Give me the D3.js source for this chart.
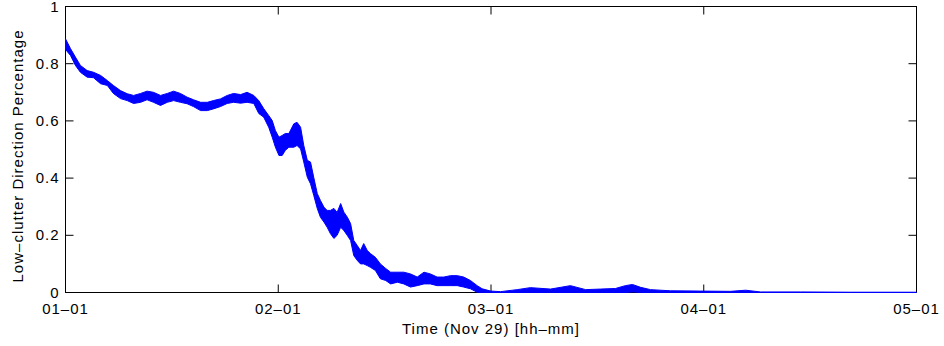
<!DOCTYPE html>
<html>
<head>
<meta charset="utf-8">
<script src="https://cdn.jsdelivr.net/npm/d3@7"></script>
<style>
  body { margin: 0; background: #fff; }
  text { font-family: 'Liberation Sans', Arial, sans-serif; font-size: 15px; letter-spacing: 1px; fill: #000; }
</style>
</head>
<body>
<svg id="chart"></svg>
<script>
// minutes after 01:01 (Nov 29) and the low / high edge of the noisy trace
const minutes = [0, 1.4, 2.8, 4.2, 6.1, 7.9, 9.9, 11.8, 13.5, 15.5, 17.4, 19.2, 21.2, 23.0, 24.8, 26.8, 28.7, 30.5, 32.4, 34.3,
  36.1, 38.1, 40.0, 41.7, 43.7, 45.6, 47.4, 49.4, 51.2, 53.1, 54.5, 55.9, 57.3, 58.3, 59.2, 60.2, 61.1, 62.0, 63.0, 64.4,
  65.3, 66.3, 67.2, 68.2, 69.1, 70.0, 71.0, 71.9, 72.9, 73.8, 74.7, 75.7, 76.6, 77.6, 78.5, 79.5, 80.4, 81.3, 82.3, 83.2,
  84.1, 85.1, 86.0, 87.4, 88.8, 90.3, 91.7, 93.6, 95.4, 97.3, 99.2, 101.1, 102.9, 104.8, 106.7, 108.6, 110.5, 112.3, 114.2, 116.1,
  117.5, 119.9, 122.7, 127.4, 131.1, 136.8, 142.4, 146.7, 150.9, 155.1, 157.9, 159.9, 162.2, 165.0, 170.6, 179.1, 187.5, 191.8, 196.0, 207.3,
  221.4, 240]
const lowVals = [0.850, 0.829, 0.794, 0.770, 0.753, 0.751, 0.730, 0.724, 0.696, 0.678, 0.671, 0.661, 0.665, 0.674, 0.665, 0.654, 0.665, 0.671, 0.665, 0.660,
  0.650, 0.636, 0.636, 0.642, 0.650, 0.661, 0.665, 0.662, 0.665, 0.661, 0.626, 0.613, 0.578, 0.543, 0.508, 0.479, 0.479, 0.497, 0.508, 0.508,
  0.514, 0.502, 0.456, 0.403, 0.380, 0.340, 0.294, 0.263, 0.246, 0.228, 0.206, 0.189, 0.200, 0.228, 0.217, 0.199, 0.182, 0.129, 0.112, 0.100,
  0.100, 0.094, 0.088, 0.077, 0.048, 0.042, 0.030, 0.036, 0.030, 0.019, 0.024, 0.030, 0.030, 0.024, 0.024, 0.024, 0.024, 0.019, 0.013, 0.001,
  0.000, 0.000, 0.000, 0.000, 0.000, 0.000, 0.000, 0.000, 0.000, 0.000, 0.000, 0.002, 0.000, 0.000, 0.000, 0.000, 0.000, 0.000, 0.000, 0.000,
  0.000, 0.000]
const highVals = [0.887, 0.853, 0.823, 0.794, 0.776, 0.770, 0.759, 0.741, 0.724, 0.706, 0.695, 0.689, 0.696, 0.704, 0.700, 0.689, 0.696, 0.704, 0.696, 0.683,
  0.674, 0.665, 0.665, 0.671, 0.677, 0.689, 0.696, 0.692, 0.700, 0.689, 0.671, 0.643, 0.619, 0.601, 0.566, 0.543, 0.549, 0.556, 0.556, 0.590,
  0.595, 0.578, 0.514, 0.462, 0.456, 0.403, 0.346, 0.322, 0.298, 0.287, 0.287, 0.294, 0.280, 0.311, 0.281, 0.263, 0.241, 0.182, 0.164, 0.147,
  0.171, 0.147, 0.136, 0.123, 0.100, 0.084, 0.071, 0.071, 0.071, 0.065, 0.054, 0.071, 0.065, 0.054, 0.054, 0.059, 0.059, 0.054, 0.042, 0.024,
  0.013, 0.005, 0.003, 0.010, 0.017, 0.012, 0.024, 0.010, 0.012, 0.014, 0.024, 0.028, 0.018, 0.010, 0.006, 0.005, 0.004, 0.008, 0.002, 0.002,
  0.001, 0.001]
const yTicks = [0, 0.2, 0.4, 0.6, 0.8, 1]
const yTickLabels = ['0', '0.2', '0.4', '0.6', '0.8', '1']
const xTickHours = [0, 1, 2, 3, 4]

const width = 944
const height = 346
const margin = { left: 65.5, right: 27.5, top: 6.5, bottom: 53.5 }

const svg = d3.select('#chart').attr('width', width).attr('height', height)

const start = new Date(2000, 10, 29, 1, 1)
const x = d3.scaleTime()
  .domain([start, d3.timeMinute.offset(start, 240)])
  .range([margin.left, width - margin.right])
const y = d3.scaleLinear().domain([0, 1]).range([height - margin.bottom, margin.top])

const fmt = d3.timeFormat('%H–%M')
const xTicks = xTickHours.map(h => d3.timeMinute.offset(start, h * 60))

// box
svg.append('rect')
  .attr('x', margin.left).attr('y', margin.top)
  .attr('width', width - margin.left - margin.right)
  .attr('height', height - margin.top - margin.bottom)
  .attr('fill', 'none').attr('stroke', '#000').attr('stroke-width', 1)

// inward ticks on all four sides
const tickLen = 8
const ticks = svg.append('g').attr('stroke', '#000').attr('stroke-width', 1)
yTicks.forEach(v => {
  ticks.append('line').attr('x1', margin.left).attr('x2', margin.left + tickLen).attr('y1', y(v)).attr('y2', y(v))
  ticks.append('line').attr('x1', width - margin.right).attr('x2', width - margin.right - tickLen).attr('y1', y(v)).attr('y2', y(v))
})
xTicks.forEach(t => {
  ticks.append('line').attr('x1', x(t)).attr('x2', x(t)).attr('y1', y(0)).attr('y2', y(0) - tickLen)
  ticks.append('line').attr('x1', x(t)).attr('x2', x(t)).attr('y1', y(1)).attr('y2', y(1) + tickLen)
})

// tick labels
svg.append('g').selectAll('text')
  .data(yTicks)
  .join('text')
  .attr('x', margin.left - 6)
  .attr('y', d => y(d) + 5)
  .attr('text-anchor', 'end')
  .text((d, i) => yTickLabels[i])

svg.append('g').selectAll('text')
  .data(xTicks)
  .join('text')
  .attr('x', d => x(d))
  .attr('y', 314)
  .attr('text-anchor', 'middle')
  .text(d => fmt(d))

// axis titles
svg.append('text')
  .attr('x', x(d3.timeMinute.offset(start, 120)))
  .attr('y', 334)
  .attr('text-anchor', 'middle')
  .text('Time (Nov 29) [hh–mm]')

svg.append('text')
  .attr('transform', 'translate(23,156) rotate(-90)')
  .attr('text-anchor', 'middle')
  .text('Low–clutter Direction Percentage')

// the trace: band between low and high edge
const rows = minutes.map((m, i) => ({ t: d3.timeMinute.offset(start, 0), m: m, lo: lowVals[i], hi: highVals[i] }))
rows.forEach(d => { d.t = new Date(start.getTime() + d.m * 60000) })

const band = d3.area()
  .x(d => x(d.t))
  .y0(d => y(d.lo))
  .y1(d => y(d.hi))

svg.append('path')
  .datum(rows)
  .attr('d', band)
  .attr('fill', '#0000ff')
  .attr('stroke', '#0000ff')
  .attr('stroke-width', 1)
  .attr('stroke-linejoin', 'round')
</script>
</body>
</html>
